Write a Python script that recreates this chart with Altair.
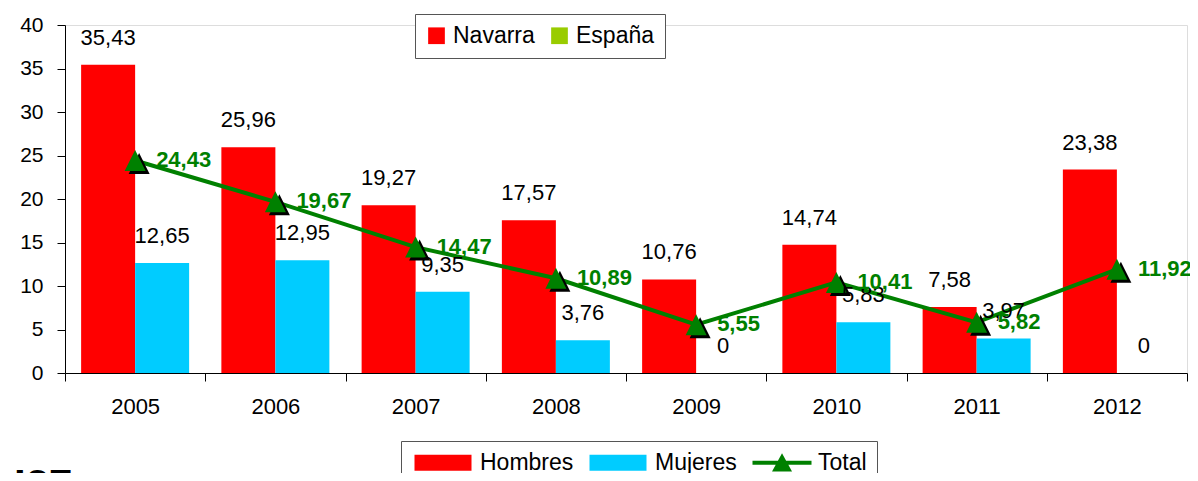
import altair as alt
import pandas as pd

# ---- data ----
years = ["2005", "2006", "2007", "2008", "2009", "2010", "2011", "2012"]
hombres = [35.43, 25.96, 19.27, 17.57, 10.76, 14.74, 7.58, 23.38]
mujeres = [12.65, 12.95, 9.35, 3.76, 0, 5.83, 3.97, 0]
total = [24.43, 19.67, 14.47, 10.89, 5.55, 10.41, 5.82, 11.92]

series = ["Hombres", "Mujeres", "Total"]
series_colors = ["#FF0000", "#00CCFF", "#008000"]
regions = ["Navarra", "España"]
region_colors = ["#FF0000", "#99CC00"]
y_ticks = [0, 5, 10, 15, 20, 25, 30, 35, 40]
note = "I27"

FONT = "Liberation Sans"

bars_df = pd.DataFrame({
    "year": years * 2,
    "serie": ["Hombres"] * len(years) + ["Mujeres"] * len(years),
    "value": hombres + mujeres,
})
total_df = pd.DataFrame({"year": years, "serie": ["Total"] * len(years), "value": total})
region_df = pd.DataFrame({"region": regions})
note_df = pd.DataFrame({"t": [note]})

label_expr = "replace(format(datum.value, '.2~f'), '.', ',')"

x_scale = alt.Scale(domain=years, paddingInner=0, paddingOuter=0)
xoff_scale = alt.Scale(domain=["Hombres", "Mujeres"], paddingInner=0, paddingOuter=0.2986)
y_scale = alt.Scale(domain=[0, 40], nice=False, zero=True)
color_scale = alt.Scale(domain=series, range=series_colors)

RECT = "M-1,-1H6.125V1H-1Z"
LINE_TRI = "M-1,-0.25H6.375V0.25H-1Z M1.44,1.1L2.69,-1.2L3.94,1.1Z"
shape_scale = alt.Scale(domain=series, range=[RECT, RECT, LINE_TRI])
TRI = "M0,-1L1,1L-1,1Z"

bottom_legend = alt.Legend(
    orient="none", legendX=336, legendY=416, direction="horizontal", title=None,
    strokeColor="#555555", fillColor="white", padding=10,
    labelFont=FONT, labelFontSize=23, labelColor="black", labelOffset=46,
    columnPadding=12, symbolSize=256, symbolStrokeWidth=0, symbolOpacity=1,
)
top_legend = alt.Legend(
    orient="none", legendX=350, legendY=-11, direction="horizontal", title=None,
    strokeColor="#555555", fillColor="white", padding=10,
    labelFont=FONT, labelFontSize=23, labelColor="black", labelOffset=5,
    columnPadding=13, symbolSize=279, symbolType="square", symbolStrokeWidth=0,
    symbolOpacity=1,
)

x_axis = alt.Axis(
    title=None, labelAngle=0, labelFont=FONT, labelFontSize=22, labelColor="black",
    tickBand="extent", tickSize=8, tickColor="black", domainColor="black",
    labelPadding=15, grid=False,
)
y_axis = alt.Axis(
    title=None, values=y_ticks, labelFont=FONT, labelFontSize=21, labelColor="black",
    tickSize=8, tickColor="black", domainColor="black", labelPadding=14, grid=False,
)

X = alt.X("year:N", scale=x_scale, axis=x_axis, sort=years)
Y = alt.Y("value:Q", scale=y_scale, axis=y_axis)

bars = alt.Chart(bars_df).mark_bar().encode(
    x=X,
    xOffset=alt.XOffset("serie:N", scale=xoff_scale),
    y=Y,
    color=alt.Color("serie:N", scale=color_scale, legend=bottom_legend),
)

bar_labels = alt.Chart(bars_df).transform_calculate(label=label_expr).mark_text(
    font=FONT, fontSize=22, color="black", baseline="alphabetic", dy=-20
).encode(
    x=X,
    xOffset=alt.XOffset("serie:N", scale=xoff_scale),
    y=Y,
    text="label:N",
)

legend_keys = alt.Chart(total_df).transform_filter("false").mark_point(filled=True, opacity=1).encode(
    x=X, y=Y,
    color=alt.Color("serie:N", scale=color_scale, legend=bottom_legend),
    shape=alt.Shape("serie:N", scale=shape_scale, legend=bottom_legend),
)

region_keys = alt.Chart(region_df).transform_filter("false").mark_square(filled=True, opacity=1).encode(
    fill=alt.Fill("region:N", scale=alt.Scale(domain=regions, range=region_colors), legend=top_legend),
)

line = alt.Chart(total_df).mark_line(color="#008000", strokeWidth=4).encode(x=X, y=Y)

shadow = alt.Chart(total_df).mark_point(
    shape=TRI, filled=True, color="black", size=441, opacity=1, xOffset=4, yOffset=3
).encode(x=X, y=Y)

markers = alt.Chart(total_df).mark_point(
    shape=TRI, filled=True, color="#008000", size=441, opacity=1
).encode(x=X, y=Y)

total_labels = alt.Chart(total_df).transform_calculate(label=label_expr).mark_text(
    font=FONT, fontSize=22, fontWeight="bold", color="#008000",
    align="left", baseline="alphabetic", dx=21, dy=6.5,
).encode(x=X, y=Y, text="label:N")

note_text = alt.Chart(note_df).mark_text(
    font=FONT, fontSize=42, fontWeight="bold", color="black",
    align="left", baseline="alphabetic",
).encode(x=alt.value(-51), y=alt.value(474), text="t:N")

chart = alt.layer(
    bars, legend_keys, region_keys, line, shadow, markers, bar_labels, total_labels, note_text
).properties(
    width=1122, height=348,
    autosize=alt.AutoSizeParams(type="none"),
    padding={"left": 57, "top": 17, "right": 3, "bottom": 100},
).configure_view(stroke=None).configure(font=FONT)

chart.save("out.html", embed_options={"renderer": "svg", "actions": False})
